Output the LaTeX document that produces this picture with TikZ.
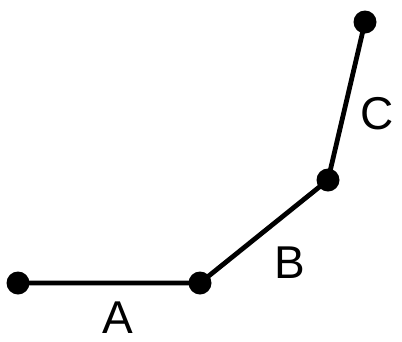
\documentclass[tikz,border=0pt]{standalone}
\usepackage{fontspec}
\setmainfont{Liberation Sans}
\begin{document}
\begin{tikzpicture}[x=1pt,y=-1pt,
  joint/.style={circle,fill=black,inner sep=0pt,minimum size=23pt},
  link/.style={line width=4.8pt},
  lbl/.style={inner sep=0pt,font=\fontsize{46}{46}\selectfont}]
\useasboundingbox (0,0) rectangle (402,341);
\node[joint] (p1) at (18,283) {};
\node[joint] (p2) at (200,283) {};
\node[joint] (p3) at (328,180) {};
\node[joint] (p4) at (365,22) {};
\draw[link] (p1.center) -- (p2.center) -- (p3.center) -- (p4.center);
\node[lbl] (a) at (118,318) {A};
\node[lbl] (b) at (290,263) {B};
\node[lbl] (c) at (377,114) {C};
\end{tikzpicture}
\end{document}
